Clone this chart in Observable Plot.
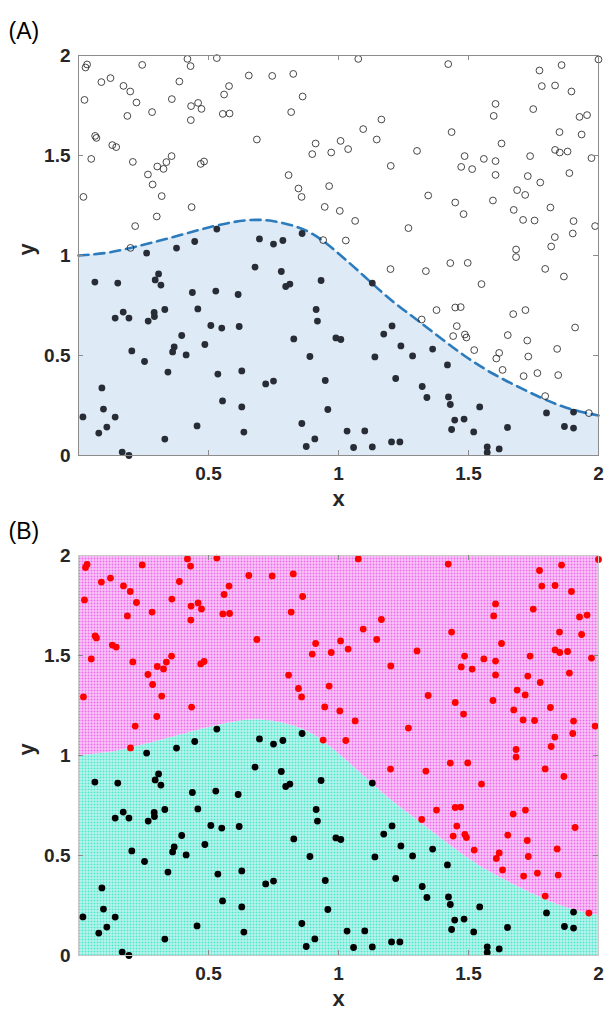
<!DOCTYPE html>
<html>
<head>
<meta charset="utf-8">
<script src="https://cdn.jsdelivr.net/npm/d3@7"></script>
<script src="https://cdn.jsdelivr.net/npm/@observablehq/plot@0.6"></script>
<style>
  body { margin: 0; background: #ffffff; }
  #chart { width: 605px; }
  #chart svg { display: block; }
</style>
</head>
<body>
<div id="chart"></div>
<script>
// ---- data ----
// points above the boundary (open circles in A, red in B)
const aboveX = [0.033,0.027,0.245,0.419,0.431,0.532,0.655,0.088,0.123,0.173,0.199,0.388,0.579,0.560,0.023,0.223,0.359,0.46,0.433,0.473,0.188,0.283,0.432,0.555,0.581,0.064,0.069,0.13,0.145,0.049,0.209,0.358,0.338,0.303,0.327,0.47,0.483,0.267,0.285,0.019,0.32,0.435,0.301,0.218,0.2,
1.076,0.745,0.826,0.862,0.818,1.165,1.095,0.686,0.912,1.008,1.147,0.899,0.972,1.037,1.302,1.201,0.808,0.846,0.858,0.964,1.345,0.947,1.005,1.064,1.269,0.941,1.028,
1.422,1.773,1.858,2.0,1.782,1.833,1.896,1.604,1.597,1.749,1.927,1.956,1.435,1.627,1.85,1.935,1.485,1.559,1.604,1.737,1.833,1.851,1.881,1.973,1.472,1.514,1.604,1.728,1.888,1.776,1.687,1.718,1.449,1.594,1.481,1.674,1.815,1.71,1.754,1.904,1.987,1.901,1.832,1.818,1.683,
1.2,1.336,1.683,1.43,1.497,1.795,1.867,1.55,1.377,1.449,1.47,1.672,1.719,1.32,1.455,1.441,1.486,1.492,1.651,1.726,1.91,1.522,1.618,1.607,1.73,1.841,1.631,1.712,1.765,1.845,1.795,1.963];
const aboveY = [1.955,1.94,1.953,1.983,1.947,1.987,1.90,1.867,1.887,1.848,1.82,1.87,1.847,1.805,1.778,1.765,1.782,1.763,1.747,1.733,1.698,1.717,1.677,1.708,1.71,1.598,1.588,1.552,1.542,1.483,1.468,1.497,1.467,1.445,1.433,1.458,1.47,1.405,1.355,1.293,1.297,1.242,1.195,1.147,1.038,
1.983,1.898,1.908,1.795,1.717,1.68,1.632,1.58,1.56,1.573,1.58,1.507,1.515,1.532,1.523,1.448,1.402,1.335,1.293,1.347,1.30,1.243,1.223,1.173,1.137,1.077,1.075,
1.957,1.925,1.952,1.98,1.847,1.85,1.82,1.758,1.698,1.732,1.693,1.702,1.617,1.56,1.617,1.605,1.497,1.483,1.472,1.497,1.528,1.515,1.52,1.487,1.443,1.432,1.403,1.397,1.412,1.365,1.327,1.303,1.265,1.275,1.207,1.228,1.24,1.178,1.175,1.172,1.147,1.11,1.092,1.045,1.03,
0.932,0.922,0.992,0.962,0.963,0.933,0.895,0.857,0.727,0.74,0.742,0.707,0.727,0.68,0.647,0.597,0.605,0.59,0.602,0.575,0.64,0.527,0.513,0.485,0.495,0.533,0.428,0.397,0.412,0.402,0.297,0.212];

// points below the boundary (filled dark in A, black in B)
const belowX = [0.532,0.447,0.377,0.262,0.696,0.75,0.786,0.86,
0.063,0.151,0.308,0.295,0.317,0.438,0.528,0.614,0.141,0.172,0.194,0.268,0.291,0.292,0.332,0.459,0.509,0.551,0.618,0.397,0.486,0.368,0.362,0.414,0.205,0.254,0.344,0.536,0.628,0.09,0.554,0.628,0.017,0.096,0.141,0.078,0.109,0.456,0.636,0.332,0.168,0.194,
0.679,0.78,0.797,0.813,0.933,1.13,0.914,0.919,0.828,0.99,1.009,0.89,1.206,1.174,1.24,1.285,1.14,0.72,0.75,0.949,1.22,0.959,0.859,0.909,0.876,1.033,1.101,1.058,1.13,1.204,1.236,
1.362,1.419,1.322,1.34,1.423,1.43,1.543,1.447,1.483,1.435,1.52,1.65,1.8,1.904,1.869,1.904,1.572,1.572,1.618];
const belowY = [1.132,1.07,1.037,1.012,1.083,1.057,1.075,1.11,
0.867,0.862,0.908,0.878,0.852,0.815,0.822,0.805,0.687,0.717,0.687,0.672,0.715,0.695,0.73,0.733,0.65,0.637,0.645,0.6,0.555,0.543,0.518,0.503,0.523,0.47,0.417,0.407,0.423,0.338,0.273,0.243,0.193,0.232,0.192,0.112,0.142,0.148,0.117,0.082,0.017,0.0,
0.942,0.92,0.845,0.857,0.875,0.862,0.73,0.672,0.583,0.588,0.58,0.495,0.648,0.607,0.548,0.498,0.493,0.358,0.372,0.375,0.385,0.23,0.16,0.083,0.045,0.122,0.123,0.04,0.043,0.068,0.068,
0.532,0.453,0.345,0.29,0.293,0.255,0.243,0.177,0.182,0.13,0.118,0.14,0.213,0.217,0.145,0.137,0.043,0.015,0.033];

// boundary curve sampled from the dashed line
const boundaryX = [0,0.1,0.2,0.3,0.4,0.5,0.6,0.7,0.8,0.9,1.0,1.1,1.2,1.3,1.4,1.5,1.6,1.7,1.8,1.9,2.0];
const boundaryY = [1.0,1.012,1.038,1.07,1.105,1.14,1.168,1.178,1.158,1.108,1.01,0.895,0.78,0.68,0.58,0.485,0.405,0.338,0.277,0.23,0.2];

// axes
const xDomain = [0, 2];
const yDomain = [0, 2];
const xTickLabels = [0.5, 1, 1.5, 2];
const yTickLabels = [0, 0.5, 1, 1.5, 2];
const innerTicks = [0.5, 1, 1.5];
const panelLabels = ["(A)", "(B)"];
const axisLabels = ["x", "y"];

// ---- tables built from the arrays ----
const above = aboveX.map((x, i) => ({x, y: aboveY[i]}));
const below = belowX.map((x, i) => ({x, y: belowY[i]}));
const boundary = boundaryX.map((x, i) => ({x, y: boundaryY[i]}));

const W = 605, ML = 78, MR = 7, MT = 55, FRAME_H = 400;
const FRAME_W = W - ML - MR;
const axisGray = "#8c8c8c";
const textColor = "#262626";

function panel(label, dataMarks, height, marginBottom, frameStroke) {
  return Plot.plot({
    width: W,
    height,
    marginLeft: ML,
    marginRight: MR,
    marginTop: MT,
    marginBottom,
    x: {domain: xDomain},
    y: {domain: yDomain},
    style: {
      fontFamily: "'Liberation Sans', Arial, Helvetica, sans-serif",
      fontSize: "19px",
      fontWeight: "bold",
      color: textColor,
      background: "#ffffff",
      overflow: "visible"
    },
    marks: [
      ...dataMarks,
      Plot.frame({stroke: frameStroke, strokeWidth: 1}),
      // inward ticks on all four sides
      Plot.tickX(innerTicks, {x: d => d, stroke: axisGray, insetTop: FRAME_H - 5}),
      Plot.tickX(innerTicks, {x: d => d, stroke: axisGray, insetBottom: FRAME_H - 5}),
      Plot.tickY(innerTicks, {y: d => d, stroke: axisGray, insetRight: FRAME_W - 5}),
      Plot.tickY(innerTicks, {y: d => d, stroke: axisGray, insetLeft: FRAME_W - 5}),
      Plot.axisX(xTickLabels, {tickSize: 0, tickPadding: 11, label: null, tickFormat: d => String(d), fill: textColor}),
      Plot.axisY(yTickLabels, {tickSize: 0, tickPadding: 8, label: null, tickFormat: d => String(d), fill: textColor}),
      Plot.text([axisLabels[0]], {text: d => d, frameAnchor: "bottom", dy: 50, fontSize: 22, fill: textColor}),
      Plot.text([axisLabels[1]], {text: d => d, frameAnchor: "left", dx: -52, rotate: -90, fontSize: 22, fill: textColor}),
      Plot.text([label], {text: d => d, frameAnchor: "top-left", dx: -70, dy: -33, textAnchor: "start", fontWeight: "normal", fontSize: 23, fill: "#000"})
    ]
  });
}

// Panel A
const svgA = panel(panelLabels[0], [
  Plot.areaY(boundary, {x: "x", y: "y", fill: "#deeaf6", curve: "natural"}),
  Plot.line(boundary, {x: "x", y: "y", stroke: "#2b7bbd", strokeWidth: 2.6, strokeDasharray: "10,6", curve: "natural"}),
  Plot.dot(below, {x: "x", y: "y", r: 3.4, fill: "#272c35", stroke: null}),
  Plot.dot(above, {x: "x", y: "y", r: 3.4, fill: "none", stroke: "#1a1a1a", strokeWidth: 0.8})
], 500, 45, axisGray);

// Panel B
const svgB = panel(panelLabels[1], [
  Plot.areaY(boundary, {x: "x", y: "y", fill: "url(#cyanGrid)", curve: "natural"}),
  Plot.areaY(boundary, {x: "x", y1: "y", y2: () => yDomain[1], fill: "url(#magentaGrid)", curve: "natural"}),
  Plot.dot(above, {x: "x", y: "y", r: 3.4, fill: "#ff0000", stroke: null}),
  Plot.dot(below, {x: "x", y: "y", r: 3.4, fill: "#000000", stroke: null})
], 515, 60, "#c8c8c8");

// dotted-mesh fills for panel B
const defs = d3.select(svgB).insert("defs", ":first-child");
function mesh(id, bg, dot) {
  const p = defs.append("pattern")
    .attr("id", id)
    .attr("patternUnits", "userSpaceOnUse")
    .attr("width", 3).attr("height", 3);
  p.append("rect").attr("width", 3).attr("height", 3).attr("fill", bg);
  p.append("rect").attr("x", 0.5).attr("y", 0.5).attr("width", 2).attr("height", 2).attr("fill", dot);
}
mesh("magentaGrid", "#fadcf8", "#ee6aec");
mesh("cyanGrid", "#d4f8f2", "#4ee4ce");

const chart = document.getElementById("chart");
chart.appendChild(svgA);
chart.appendChild(svgB);
</script>
</body>
</html>
